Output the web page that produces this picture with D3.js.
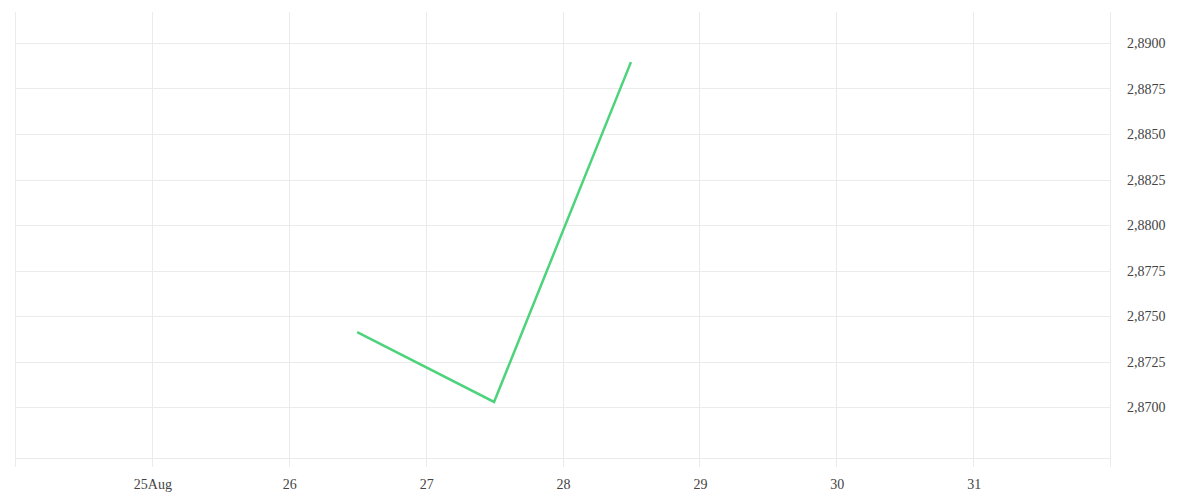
<!DOCTYPE html>
<html><head><meta charset="utf-8">
<script src="https://cdn.jsdelivr.net/npm/d3@7"></script>
<style>
html,body{margin:0;padding:0;background:#fff;}
svg{display:block;}
</style></head>
<body>
<svg id="chart" width="1200" height="500"></svg>
<script>
const dates = ["2023-08-26T12:00", "2023-08-27T12:00", "2023-08-28T12:00"];
const values = [2.87412, 2.87028, 2.88895];
const xTickDates = ["2023-08-25", "2023-08-26", "2023-08-27", "2023-08-28", "2023-08-29", "2023-08-30", "2023-08-31"];
const xTickLabels = ["25Aug", "26", "27", "28", "29", "30", "31"];
const yTicks = [2.87, 2.8725, 2.875, 2.8775, 2.88, 2.8825, 2.885, 2.8875, 2.89];
const yTickLabels = ["2,8700", "2,8725", "2,8750", "2,8775", "2,8800", "2,8825", "2,8850", "2,8875", "2,8900"];

const parse = d3.timeParse("%Y-%m-%dT%H:%M");
const parseDay = d3.timeParse("%Y-%m-%d");
const svg = d3.select("#chart");
const mLeft = 15, mRight = 1110, mTop = 12, mBottom = 458;

const x = d3.scaleTime()
  .domain([parseDay("2023-08-24"), parseDay("2023-09-01")])
  .range([mLeft, mRight]);
const y = d3.scaleLinear()
  .domain([2.87 - 0.0025 * 51 / 45.5, 2.89 + 0.0025 * 31 / 45.5])
  .range([mBottom, mTop]);

const grid = "#ebebeb";
const g = svg.append("g");

const vLines = [parseDay("2023-08-24")].concat(xTickDates.map(parseDay), [parseDay("2023-09-01")]);
g.selectAll(".vg").data(vLines).enter().append("line")
  .attr("x1", d => Math.round(x(d)) + 0.5).attr("x2", d => Math.round(x(d)) + 0.5)
  .attr("y1", mTop).attr("y2", mBottom + 9)
  .attr("stroke", grid).attr("stroke-width", 1);

g.selectAll(".hg").data(yTicks).enter().append("line")
  .attr("x1", mLeft).attr("x2", mRight)
  .attr("y1", d => Math.round(y(d)) + 0.5).attr("y2", d => Math.round(y(d)) + 0.5)
  .attr("stroke", grid).attr("stroke-width", 1);
g.append("line")
  .attr("x1", mLeft).attr("x2", mRight)
  .attr("y1", mBottom + 0.5).attr("y2", mBottom + 0.5)
  .attr("stroke", grid).attr("stroke-width", 1);

const font = "'Liberation Serif', serif";
g.selectAll(".xl").data(xTickDates).enter().append("text")
  .attr("x", d => x(parseDay(d)) + 1)
  .attr("y", 489)
  .attr("text-anchor", "middle")
  .attr("font-family", font).attr("font-size", 14).attr("fill", "#444")
  .text((d, i) => xTickLabels[i]);

g.selectAll(".yl").data(yTicks).enter().append("text")
  .attr("x", 1127)
  .attr("y", d => y(d) + 5)
  .attr("font-family", font).attr("font-size", 14).attr("fill", "#444")
  .text((d, i) => yTickLabels[i]);

const line = d3.line().x((d, i) => x(parse(dates[i]))).y(d => y(d));
svg.append("path").datum(values)
  .attr("d", line)
  .attr("fill", "none")
  .attr("stroke", "#4cd37b")
  .attr("stroke-width", 2.5)
  .attr("stroke-linejoin", "miter");
</script>
</body></html>
